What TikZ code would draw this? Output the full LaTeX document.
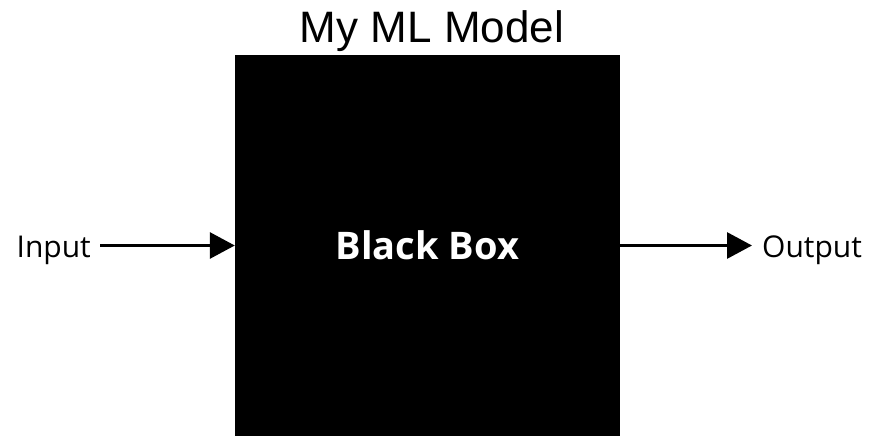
\documentclass[tikz,border=0pt]{standalone}
\usepackage{fontspec}
\setmainfont{Open Sans}
\newfontfamily\titlefont{Liberation Sans}
\usetikzlibrary{arrows.meta}
\begin{document}
\begin{tikzpicture}[x=1pt,y=1pt,
  flow/.style={line width=3pt,-{Triangle[length=25pt,width=26pt]}},
  label/.style={inner sep=0pt,font=\fontsize{30}{36}\selectfont}]
\useasboundingbox (0,0) rectangle (879,-436);
% the model itself
\node[fill=black,minimum width=385pt,minimum height=381pt,inner sep=0pt,
      text=white,font=\fontsize{38}{44}\bfseries\selectfont]
  (box) at (427.5,-245.5) {Black Box};
\node[anchor=base,inner sep=0pt,font=\titlefont\fontsize{44}{50}\selectfont]
  (title) at (432,-43) {My ML Model};
% input and output
\node[label,anchor=base east] (in) at (91,-257) {Input};
\node[label,anchor=base west] (out) at (762,-257) {Output};
\draw[flow,shorten <=9pt] (in.east |- box.west) -- (box.west);
\draw[flow,shorten >=10pt] (box.east) -- (out.west |- box.east);
\end{tikzpicture}
\end{document}
